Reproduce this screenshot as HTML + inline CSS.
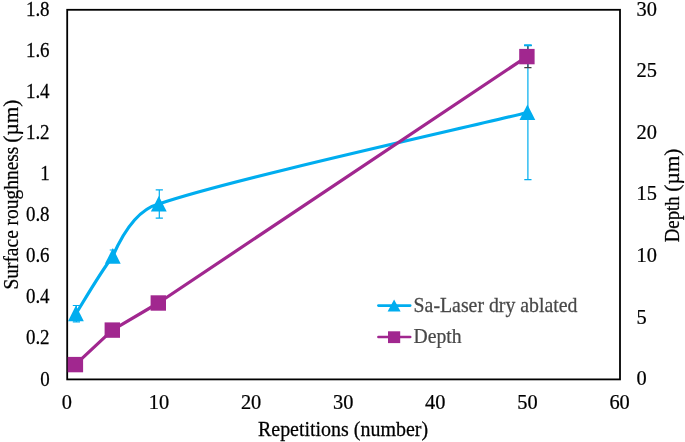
<!DOCTYPE html><html><head><meta charset="utf-8"><title>Chart</title><style>html,body{margin:0;padding:0;background:#fff}svg{display:block}text{font-family:"Liberation Serif",serif;fill:#000;stroke:#000;stroke-width:.25px}</style></head><body>
<svg width="685" height="442" viewBox="0 0 685 442">
<rect width="685" height="442" fill="#fff"/>
<rect x="67.2" y="9.8" width="552.8" height="369.6" fill="none" stroke="#000" stroke-width="1.8"/>
<text transform="translate(49.6,385.5) scale(0.92,1)" font-size="20.6" text-anchor="end">0</text>
<text transform="translate(49.6,344.4) scale(0.92,1)" font-size="20.6" text-anchor="end">0.2</text>
<text transform="translate(49.6,303.4) scale(0.92,1)" font-size="20.6" text-anchor="end">0.4</text>
<text transform="translate(49.6,262.3) scale(0.92,1)" font-size="20.6" text-anchor="end">0.6</text>
<text transform="translate(49.6,221.2) scale(0.92,1)" font-size="20.6" text-anchor="end">0.8</text>
<text transform="translate(49.6,180.2) scale(0.92,1)" font-size="20.6" text-anchor="end">1</text>
<text transform="translate(49.6,139.1) scale(0.92,1)" font-size="20.6" text-anchor="end">1.2</text>
<text transform="translate(49.6,98.0) scale(0.92,1)" font-size="20.6" text-anchor="end">1.4</text>
<text transform="translate(49.6,57.0) scale(0.92,1)" font-size="20.6" text-anchor="end">1.6</text>
<text transform="translate(49.6,15.9) scale(0.92,1)" font-size="20.6" text-anchor="end">1.8</text>
<text transform="translate(636.6,385.2) scale(0.99,1)" font-size="20.6" text-anchor="start">0</text>
<text transform="translate(636.6,323.6) scale(0.99,1)" font-size="20.6" text-anchor="start">5</text>
<text transform="translate(636.6,262.0) scale(0.99,1)" font-size="20.6" text-anchor="start">10</text>
<text transform="translate(636.6,200.4) scale(0.99,1)" font-size="20.6" text-anchor="start">15</text>
<text transform="translate(636.6,138.8) scale(0.99,1)" font-size="20.6" text-anchor="start">20</text>
<text transform="translate(636.6,77.2) scale(0.99,1)" font-size="20.6" text-anchor="start">25</text>
<text transform="translate(636.6,15.6) scale(0.99,1)" font-size="20.6" text-anchor="start">30</text>
<text transform="translate(66.8,408.5) scale(0.99,1)" font-size="20.6" text-anchor="middle">0</text>
<text transform="translate(158.9,408.5) scale(0.99,1)" font-size="20.6" text-anchor="middle">10</text>
<text transform="translate(251.1,408.5) scale(0.99,1)" font-size="20.6" text-anchor="middle">20</text>
<text transform="translate(343.2,408.5) scale(0.99,1)" font-size="20.6" text-anchor="middle">30</text>
<text transform="translate(435.3,408.5) scale(0.99,1)" font-size="20.6" text-anchor="middle">40</text>
<text transform="translate(527.5,408.5) scale(0.99,1)" font-size="20.6" text-anchor="middle">50</text>
<text transform="translate(619.6,408.5) scale(0.99,1)" font-size="20.6" text-anchor="middle">60</text>
<text transform="translate(17.5,289.6) rotate(-90) scale(0.9445,1)" font-size="20.6" text-anchor="start">Surface roughness</text>
<text transform="translate(17.5,99.6) rotate(-90) scale(1.035,1)" font-size="20.6" text-anchor="end">(µm)</text>
<text transform="translate(678.5,242.2) rotate(-90) scale(0.912,1)" font-size="20.6" text-anchor="start">Depth</text>
<text transform="translate(678.5,148.6) rotate(-90) scale(1.035,1)" font-size="20.6" text-anchor="end">(µm)</text>
<text transform="translate(343.0,436.0) scale(0.969,1)" font-size="20.6" text-anchor="middle">Repetitions (number)</text>
<path d="M76.4 305.5V321.9M72.8 305.5H80.0M72.8 321.9H80.0" stroke="#00adef" stroke-width="1.2" fill="none"/>
<path d="M113.3 250.0V262.4M109.7 250.0H116.9M109.7 262.4H116.9" stroke="#00adef" stroke-width="1.2" fill="none"/>
<path d="M159.3 189.9V218.2M155.7 189.9H162.9M155.7 218.2H162.9" stroke="#00adef" stroke-width="1.2" fill="none"/>
<path d="M527.9 45.3V179.6M524.3 45.3H531.5M524.3 179.6H531.5" stroke="#00adef" stroke-width="1.2" fill="none"/>
<path d="M527.9 45.5V67.7M524.3 45.5H531.5M524.3 67.7H531.5" stroke="#404040" stroke-width="1.2" fill="none"/>
<path d="M524.1 45.3H531.7" stroke="#00adef" stroke-width="2" fill="none"/>
<path d="M75.9 313.7 C82.1 304.1 98.9 274.5 112.8 256.2 C124.6 229.1 140.3 208.7 158.8 204.0 C227.9 180.1 465.9 127.7 527.4 112.5" stroke="#00adef" stroke-width="3.2" fill="none" stroke-linejoin="round" stroke-linecap="round"/>
<path d="M75.4 364.6 L112.3 330.1 L158.3 303.0 L526.9 56.6" stroke="#a1278f" stroke-width="3.2" fill="none" stroke-linejoin="round" stroke-linecap="round"/>
<path d="M75.9 305.6L83.8 321.2H68.0Z" fill="#00adef"/>
<path d="M112.8 248.1L120.7 263.7H104.9Z" fill="#00adef"/>
<path d="M158.8 195.9L166.7 211.5H150.9Z" fill="#00adef"/>
<path d="M527.4 104.4L535.3 120.0H519.5Z" fill="#00adef"/>
<rect x="67.7" y="356.9" width="15.4" height="15.4" fill="#a1278f"/>
<rect x="104.6" y="322.4" width="15.4" height="15.4" fill="#a1278f"/>
<rect x="150.6" y="295.3" width="15.4" height="15.4" fill="#a1278f"/>
<rect x="519.2" y="48.9" width="15.4" height="15.4" fill="#a1278f"/>
<path d="M378.4 305.6H410.2" stroke="#00adef" stroke-width="2.6" stroke-linecap="round"/><path d="M394.1 299.4L400.6 311.6H387.6Z" fill="#00adef"/>
<path d="M378.4 337H410.2" stroke="#a1278f" stroke-width="2.6" stroke-linecap="round"/><rect x="388" y="331.3" width="12.2" height="11.8" fill="#a1278f"/>
<text transform="translate(413.6,311.7) scale(0.962,1)" font-size="20.6" text-anchor="start" style="fill:#484848;stroke:#484848">Sa-Laser dry ablated</text>
<text transform="translate(413.6,343.0) scale(0.955,1)" font-size="20.6" text-anchor="start" style="fill:#484848;stroke:#484848">Depth</text>
</svg></body></html>
